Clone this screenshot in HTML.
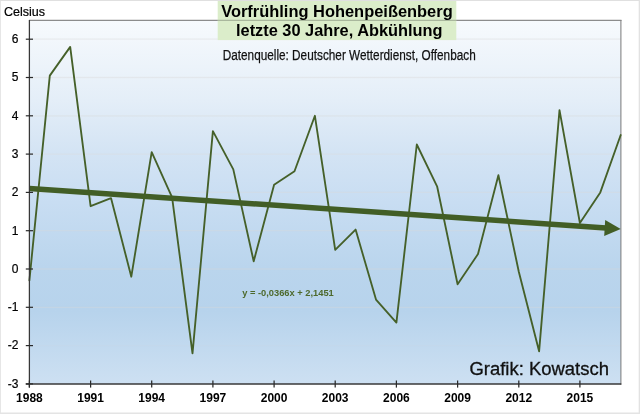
<!DOCTYPE html>
<html><head><meta charset="utf-8"><style>
html,body{margin:0;padding:0;background:#fff;}
body{width:640px;height:414px;overflow:hidden;font-family:"Liberation Sans",sans-serif;}
svg{display:block;transform:translateZ(0);will-change:transform;font-family:"Liberation Sans",sans-serif;}
</style></head><body>
<svg width="640" height="414" viewBox="0 0 640 414">
<defs>
<linearGradient id="bg" x1="0" y1="0" x2="0" y2="1">
<stop offset="0" stop-color="#f7fafd"/>
<stop offset="0.22" stop-color="#e4eef8"/>
<stop offset="0.36" stop-color="#d4e4f4"/>
<stop offset="0.5" stop-color="#c8ddf2"/>
<stop offset="0.68" stop-color="#bad5ed"/>
<stop offset="0.8" stop-color="#b7d3ec"/>
<stop offset="1" stop-color="#cde0f2"/>
</linearGradient>
</defs>
<rect x="0" y="0" width="640" height="414" fill="#fff"/>
<rect x="0" y="0" width="640" height="1" fill="#e0e0e0"/><rect x="0" y="0" width="0.8" height="414" fill="#e0e0e0"/><rect x="638.7" y="0" width="1.3" height="414" fill="#e2e2e2"/><rect x="0" y="412.5" width="640" height="1.5" fill="#e4e4e4"/>
<rect x="29" y="20" width="592" height="364" fill="url(#bg)"/>
<line x1="30" x2="621" y1="345.6" y2="345.6" stroke="#d9d9d9" stroke-opacity="0.1" stroke-width="1.3"/><line x1="30" x2="621" y1="307.3" y2="307.3" stroke="#d9d9d9" stroke-opacity="0.36" stroke-width="1.3"/><line x1="30" x2="621" y1="269.0" y2="269.0" stroke="#d9d9d9" stroke-opacity="0.36" stroke-width="1.3"/><line x1="30" x2="621" y1="230.7" y2="230.7" stroke="#d9d9d9" stroke-opacity="0.36" stroke-width="1.3"/><line x1="30" x2="621" y1="192.4" y2="192.4" stroke="#d9d9d9" stroke-opacity="0.36" stroke-width="1.3"/><line x1="30" x2="621" y1="154.1" y2="154.1" stroke="#d9d9d9" stroke-opacity="0.38" stroke-width="1.3"/><line x1="30" x2="621" y1="115.8" y2="115.8" stroke="#d9d9d9" stroke-opacity="0.4" stroke-width="1.3"/><line x1="30" x2="621" y1="77.5" y2="77.5" stroke="#d9d9d9" stroke-opacity="0.4" stroke-width="1.3"/><line x1="30" x2="621" y1="39.2" y2="39.2" stroke="#d9d9d9" stroke-opacity="0.4" stroke-width="1.3"/>
<line x1="29" x2="621.5" y1="20.4" y2="20.4" stroke="#8c8c8c" stroke-width="1.1"/>
<line x1="620.9" x2="620.9" y1="20" y2="384.8" stroke="#858585" stroke-width="1.1"/>
<rect x="217.7" y="1" width="238.6" height="39.1" fill="#dbedca"/><line x1="217.7" x2="456.3" y1="20.4" y2="20.4" stroke="#7f8a78" stroke-opacity="0.55" stroke-width="1.1"/>
<polyline points="29.4,280.5 49.8,75.6 70.2,46.9 90.6,206.2 111.0,198.1 131.3,276.7 151.7,152.2 172.1,197.4 192.5,353.3 212.9,131.1 233.3,169.4 253.7,261.3 274.1,184.7 294.5,171.3 314.9,115.8 335.2,249.8 355.6,229.6 376.0,299.6 396.4,322.6 416.8,144.5 437.2,186.7 457.6,284.3 478.0,254.1 498.4,175.2 518.8,271.7 539.1,351.3 559.5,110.1 579.9,223.0 600.3,192.4 620.7,135.0" fill="none" stroke="#456029" stroke-width="1.85" stroke-linejoin="round" stroke-linecap="round"/>
<line x1="29.5" y1="188.4" x2="606" y2="227.9" stroke="#425e26" stroke-width="5.5"/>
<polygon points="620.7,228.9 605.2,220 604.2,236" fill="#425e26"/>
<line x1="29.4" x2="29.4" y1="20" y2="387.6" stroke="#383838" stroke-width="1.25"/>
<line x1="25.8" x2="621.3" y1="384" y2="384" stroke="#383838" stroke-width="1.7"/>
<line x1="25.8" x2="33" y1="383.9" y2="383.9" stroke="#2a2a2a" stroke-width="1.2"/><line x1="25.8" x2="33" y1="345.6" y2="345.6" stroke="#2a2a2a" stroke-width="1.2"/><line x1="25.8" x2="33" y1="307.3" y2="307.3" stroke="#2a2a2a" stroke-width="1.2"/><line x1="25.8" x2="33" y1="269.0" y2="269.0" stroke="#2a2a2a" stroke-width="1.2"/><line x1="25.8" x2="33" y1="230.7" y2="230.7" stroke="#2a2a2a" stroke-width="1.2"/><line x1="25.8" x2="33" y1="192.4" y2="192.4" stroke="#2a2a2a" stroke-width="1.2"/><line x1="25.8" x2="33" y1="154.1" y2="154.1" stroke="#2a2a2a" stroke-width="1.2"/><line x1="25.8" x2="33" y1="115.8" y2="115.8" stroke="#2a2a2a" stroke-width="1.2"/><line x1="25.8" x2="33" y1="77.5" y2="77.5" stroke="#2a2a2a" stroke-width="1.2"/><line x1="25.8" x2="33" y1="39.2" y2="39.2" stroke="#2a2a2a" stroke-width="1.2"/><line x1="29.4" x2="29.4" y1="380.5" y2="387.6" stroke="#2a2a2a" stroke-width="1.25"/><line x1="90.6" x2="90.6" y1="380.5" y2="387.6" stroke="#2a2a2a" stroke-width="1.25"/><line x1="151.7" x2="151.7" y1="380.5" y2="387.6" stroke="#2a2a2a" stroke-width="1.25"/><line x1="212.9" x2="212.9" y1="380.5" y2="387.6" stroke="#2a2a2a" stroke-width="1.25"/><line x1="274.1" x2="274.1" y1="380.5" y2="387.6" stroke="#2a2a2a" stroke-width="1.25"/><line x1="335.2" x2="335.2" y1="380.5" y2="387.6" stroke="#2a2a2a" stroke-width="1.25"/><line x1="396.4" x2="396.4" y1="380.5" y2="387.6" stroke="#2a2a2a" stroke-width="1.25"/><line x1="457.6" x2="457.6" y1="380.5" y2="387.6" stroke="#2a2a2a" stroke-width="1.25"/><line x1="518.8" x2="518.8" y1="380.5" y2="387.6" stroke="#2a2a2a" stroke-width="1.25"/><line x1="579.9" x2="579.9" y1="380.5" y2="387.6" stroke="#2a2a2a" stroke-width="1.25"/>
<text x="18.4" y="387.7" text-anchor="end" font-size="12" fill="#000" stroke="#000" stroke-width="0.2">-3</text><text x="18.4" y="349.4" text-anchor="end" font-size="12" fill="#000" stroke="#000" stroke-width="0.2">-2</text><text x="18.4" y="311.1" text-anchor="end" font-size="12" fill="#000" stroke="#000" stroke-width="0.2">-1</text><text x="18.4" y="272.8" text-anchor="end" font-size="12" fill="#000" stroke="#000" stroke-width="0.2">0</text><text x="18.4" y="234.5" text-anchor="end" font-size="12" fill="#000" stroke="#000" stroke-width="0.2">1</text><text x="18.4" y="196.2" text-anchor="end" font-size="12" fill="#000" stroke="#000" stroke-width="0.2">2</text><text x="18.4" y="157.9" text-anchor="end" font-size="12" fill="#000" stroke="#000" stroke-width="0.2">3</text><text x="18.4" y="119.6" text-anchor="end" font-size="12" fill="#000" stroke="#000" stroke-width="0.2">4</text><text x="18.4" y="81.3" text-anchor="end" font-size="12" fill="#000" stroke="#000" stroke-width="0.2">5</text><text x="18.4" y="43.0" text-anchor="end" font-size="12" fill="#000" stroke="#000" stroke-width="0.2">6</text><text x="29.4" y="401.7" text-anchor="middle" font-size="12" font-weight="bold" fill="#000">1988</text><text x="90.6" y="401.7" text-anchor="middle" font-size="12" font-weight="bold" fill="#000">1991</text><text x="151.7" y="401.7" text-anchor="middle" font-size="12" font-weight="bold" fill="#000">1994</text><text x="212.9" y="401.7" text-anchor="middle" font-size="12" font-weight="bold" fill="#000">1997</text><text x="274.1" y="401.7" text-anchor="middle" font-size="12" font-weight="bold" fill="#000">2000</text><text x="335.2" y="401.7" text-anchor="middle" font-size="12" font-weight="bold" fill="#000">2003</text><text x="396.4" y="401.7" text-anchor="middle" font-size="12" font-weight="bold" fill="#000">2006</text><text x="457.6" y="401.7" text-anchor="middle" font-size="12" font-weight="bold" fill="#000">2009</text><text x="518.8" y="401.7" text-anchor="middle" font-size="12" font-weight="bold" fill="#000">2012</text><text x="579.9" y="401.7" text-anchor="middle" font-size="12" font-weight="bold" fill="#000">2015</text>
<text x="3.9" y="15.5" font-size="13" fill="#000" stroke="#000" stroke-width="0.2" textLength="41.2" lengthAdjust="spacingAndGlyphs">Celsius</text>
<text x="221.2" y="16.7" font-size="16" font-weight="bold" fill="#000" textLength="231.5" lengthAdjust="spacingAndGlyphs">Vorfrühling Hohenpeißenberg</text>
<text x="236" y="36.3" font-size="16" font-weight="bold" fill="#000" textLength="206.5" lengthAdjust="spacingAndGlyphs">letzte 30 Jahre, Abkühlung</text>
<text x="222.7" y="60.3" font-size="15.5" fill="#111" stroke="#111" stroke-width="0.25" textLength="253" lengthAdjust="spacingAndGlyphs">Datenquelle: Deutscher Wetterdienst, Offenbach</text>
<text x="242.2" y="296" font-size="9.3" font-weight="bold" fill="#4d692c" textLength="91.6" lengthAdjust="spacingAndGlyphs">y = -0,0366x + 2,1451</text>
<text x="469.4" y="375.1" font-size="18" fill="#111" stroke="#111" stroke-width="0.3" textLength="139.6" lengthAdjust="spacingAndGlyphs">Grafik: Kowatsch</text>
</svg>
</body></html>
